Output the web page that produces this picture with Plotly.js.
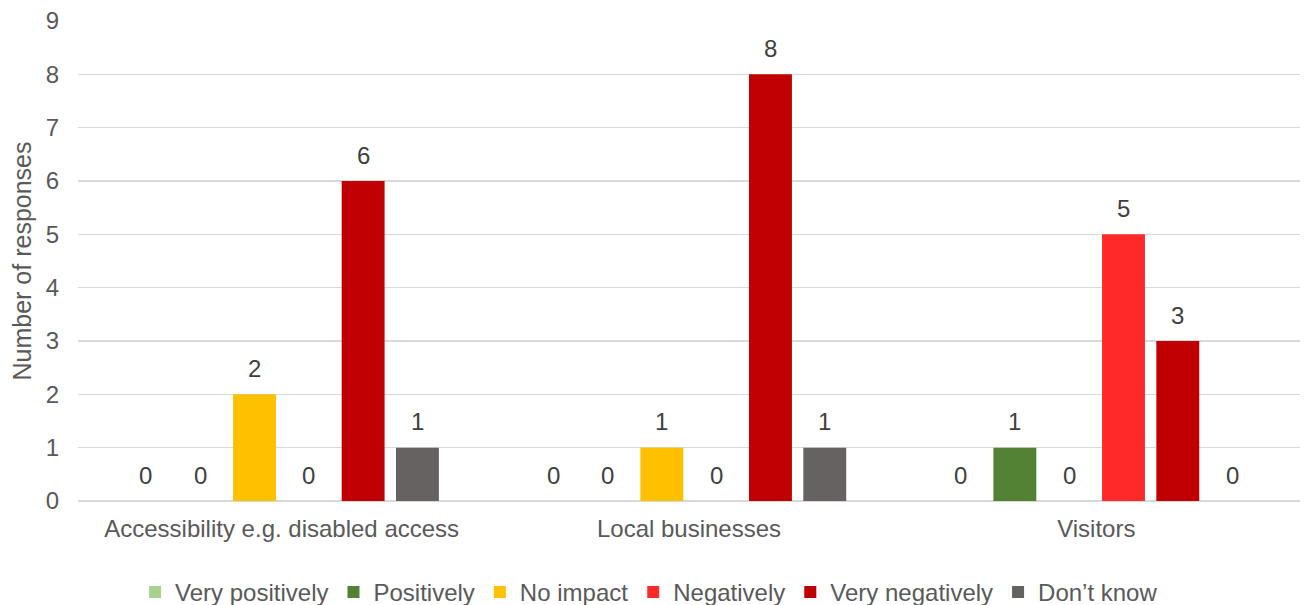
<!DOCTYPE html>
<html><head><meta charset="utf-8">
<script src="https://cdn.plot.ly/plotly-3.0.1.min.js"></script>
<style>html,body{margin:0;padding:0;background:#fff}#c{width:1306px;height:605px}</style>
</head><body><div id="c"></div>
<script>
const categories = ["Accessibility e.g. disabled access", "Local businesses", "Visitors"];
const seriesNames = ["Very positively", "Positively", "No impact", "Negatively", "Very negatively", "Don\u2019t know"];
const veryPositively = [0, 0, 0];
const positively = [0, 0, 1];
const noImpact = [2, 1, 0];
const negatively = [0, 0, 5];
const veryNegatively = [6, 8, 3];
const dontKnow = [1, 1, 0];
const colors = ["#A9D18E", "#548235", "#FFC000", "#FF2929", "#C00000", "#676262"];

const values = [veryPositively, positively, noImpact, negatively, veryNegatively, dontKnow];
const W = 1306, H = 605, ML = 78, MR = 6;
const bargap = 0.2;
const fam = "Liberation Sans, Arial, sans-serif";
const traces = values.map((v, i) => ({
  type: "bar", name: seriesNames[i], x: categories, y: v,
  marker: {color: colors[i]}, hoverinfo: "none"
}));
// value labels placed above each bar via the axes
const slot = (W - ML - MR) / categories.length * (1 - bargap) / values.length;
const annotations = [];
values.forEach((v, i) => v.forEach((val, j) => annotations.push({
  x: categories[j], y: val, xref: "x", yref: "y", text: String(val), showarrow: false,
  xshift: (i - (values.length - 1) / 2) * slot, yshift: 26, yanchor: "middle",
  font: {family: fam, size: 24, color: "#404040"}
})));
Plotly.newPlot("c", traces, {
  width: W, height: H,
  margin: {l: ML, r: MR, t: 21, b: 104, autoexpand: false},
  barmode: "group", bargap: bargap, bargroupgap: 0.21,
  font: {family: fam, color: "#595959", size: 24},
  paper_bgcolor: "#fff", plot_bgcolor: "#fff",
  annotations: annotations,
  xaxis: {showgrid: false, zeroline: false, showline: false, ticks: "", automargin: false,
          tickfont: {size: 24, color: "#595959"}, ticklabelstandoff: 11},
  yaxis: {range: [0, 9], dtick: 1, showgrid: true, gridcolor: "#D9D9D9", gridwidth: 1.5,
          zeroline: true, zerolinecolor: "#D9D9D9", zerolinewidth: 1.5, automargin: false,
          ticks: "", tickfont: {size: 24, color: "#595959"}, ticklabelstandoff: 18,
          title: {text: "Number of responses", font: {size: 25, color: "#595959"}, standoff: 6}},
  legend: {orientation: "h", x: 0.497, xanchor: "center", xref: "container",
           y: 0.021, yanchor: "middle", yref: "container",
           font: {size: 24, color: "#595959"}, itemwidth: 30, traceorder: "normal"},
  showlegend: true
}, {displayModeBar: false, staticPlot: true});
</script></body></html>
